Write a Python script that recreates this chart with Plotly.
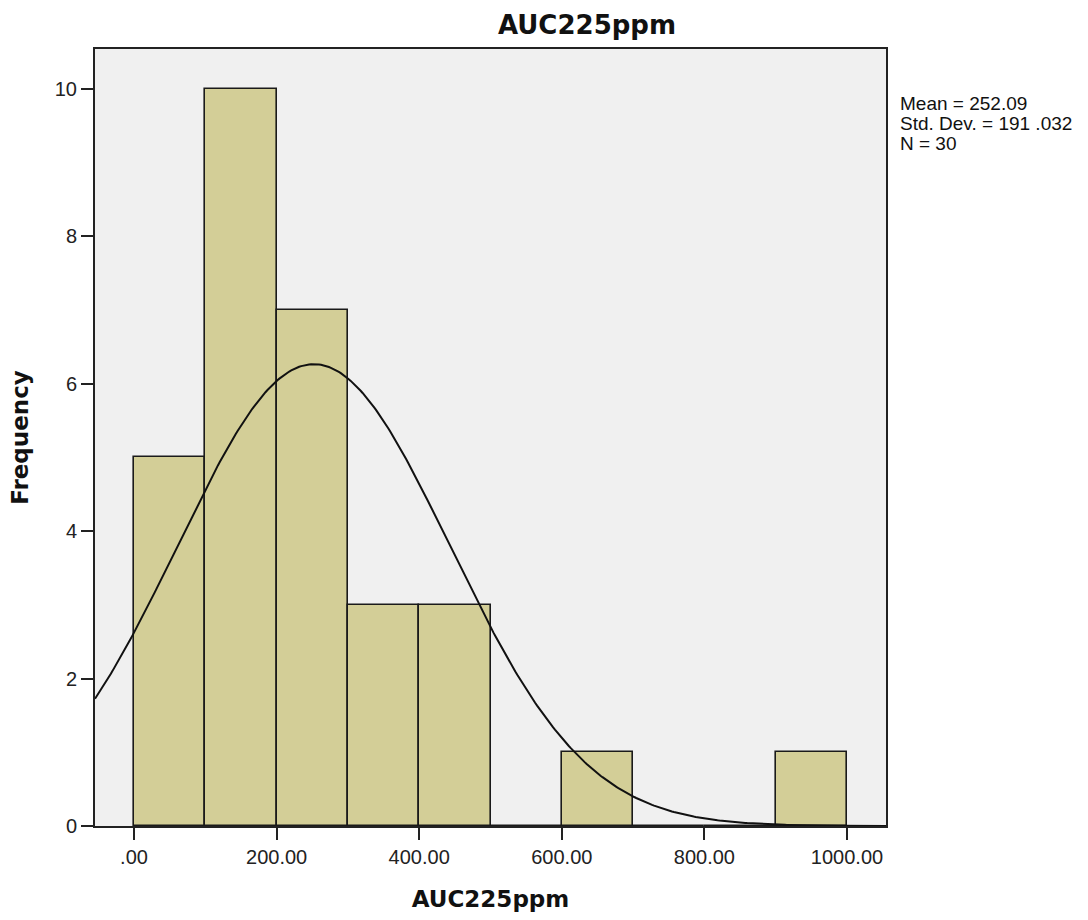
import numpy as np
import plotly.graph_objects as go

bin_starts = [0, 100, 200, 300, 400, 500, 600, 700, 800, 900]
counts = [5, 10, 7, 3, 3, 0, 1, 0, 0, 1]
bin_width = 100
mean_val = 252.09
std_val = 191.032
n_val = 30
x_ticks = [0, 200, 400, 600, 800, 1000]
x_tick_labels = [".00", "200.00", "400.00", "600.00", "800.00", "1000.00"]
y_ticks = [0, 2, 4, 6, 8, 10]
stat_lines = ["Mean = 252.09", "Std. Dev. = 191 .032", "N = 30"]

x_range = [-54.7, 1054.7]
y_range = [0, 10.54]

centers = [s + bin_width / 2 for s in bin_starts]

fig = go.Figure()
fig.add_trace(go.Bar(
    x=centers, y=counts, width=bin_width,
    marker=dict(color="#D3CE97", line=dict(color="#1a1a1a", width=1.6)),
    hoverinfo="x+y", showlegend=False,
))

xs = np.linspace(x_range[0], x_range[1], 400)
ys = n_val * bin_width * np.exp(-0.5 * ((xs - mean_val) / std_val) ** 2) / (std_val * np.sqrt(2 * np.pi))
fig.add_trace(go.Scatter(
    x=xs, y=ys, mode="lines", line=dict(color="#111111", width=2),
    showlegend=False, hoverinfo="skip",
))

tick_font = dict(family="Liberation Sans, Arial, sans-serif", size=20, color="#222222")
bold_font = "DejaVu Sans, Liberation Sans, sans-serif"

L, R, T, B = 95, 886, 49, 829
W, H = 1088, 920

annotations = []
for i, line in enumerate(stat_lines):
    annotations.append(dict(
        text=line, xref="paper", yref="paper",
        x=(898 - L) / (R - L), y=(B - (103.5 + 20 * i)) / (B - T),
        xanchor="left", yanchor="middle", showarrow=False, align="left",
        font=dict(family="Liberation Sans, Arial, sans-serif", size=19, color="#111111"),
    ))

fig.update_layout(
    width=W, height=H,
    margin=dict(l=L, r=W - R, t=T, b=H - B),
    paper_bgcolor="white",
    plot_bgcolor="#F0F0F0",
    bargap=0,
    font=tick_font,
    title=dict(text="<b>AUC225ppm</b>", x=587 / W, xanchor="center",
               y=1 - 25 / H, yanchor="middle",
               font=dict(family=bold_font, size=26, color="#111111")),
    xaxis=dict(
        range=x_range, tickvals=x_ticks, ticktext=x_tick_labels,
        showgrid=False, zeroline=False,
        showline=True, linecolor="#222222", linewidth=2, mirror=True,
        ticks="outside", ticklen=12, tickwidth=2, tickcolor="#222222",
        tickfont=tick_font,
        title=dict(text="<b>AUC225ppm</b>", standoff=24,
                   font=dict(family=bold_font, size=23, color="#111111")),
    ),
    yaxis=dict(
        range=y_range, tickvals=y_ticks,
        showgrid=False, zeroline=False,
        showline=True, linecolor="#222222", linewidth=2, mirror=True,
        ticks="outside", ticklen=12, tickwidth=2, tickcolor="#222222",
        tickfont=tick_font,
        title=dict(text="<b>Frequency</b>", standoff=20,
                   font=dict(family=bold_font, size=23, color="#111111")),
    ),
    annotations=annotations,
)

fig.write_html("out.html")
